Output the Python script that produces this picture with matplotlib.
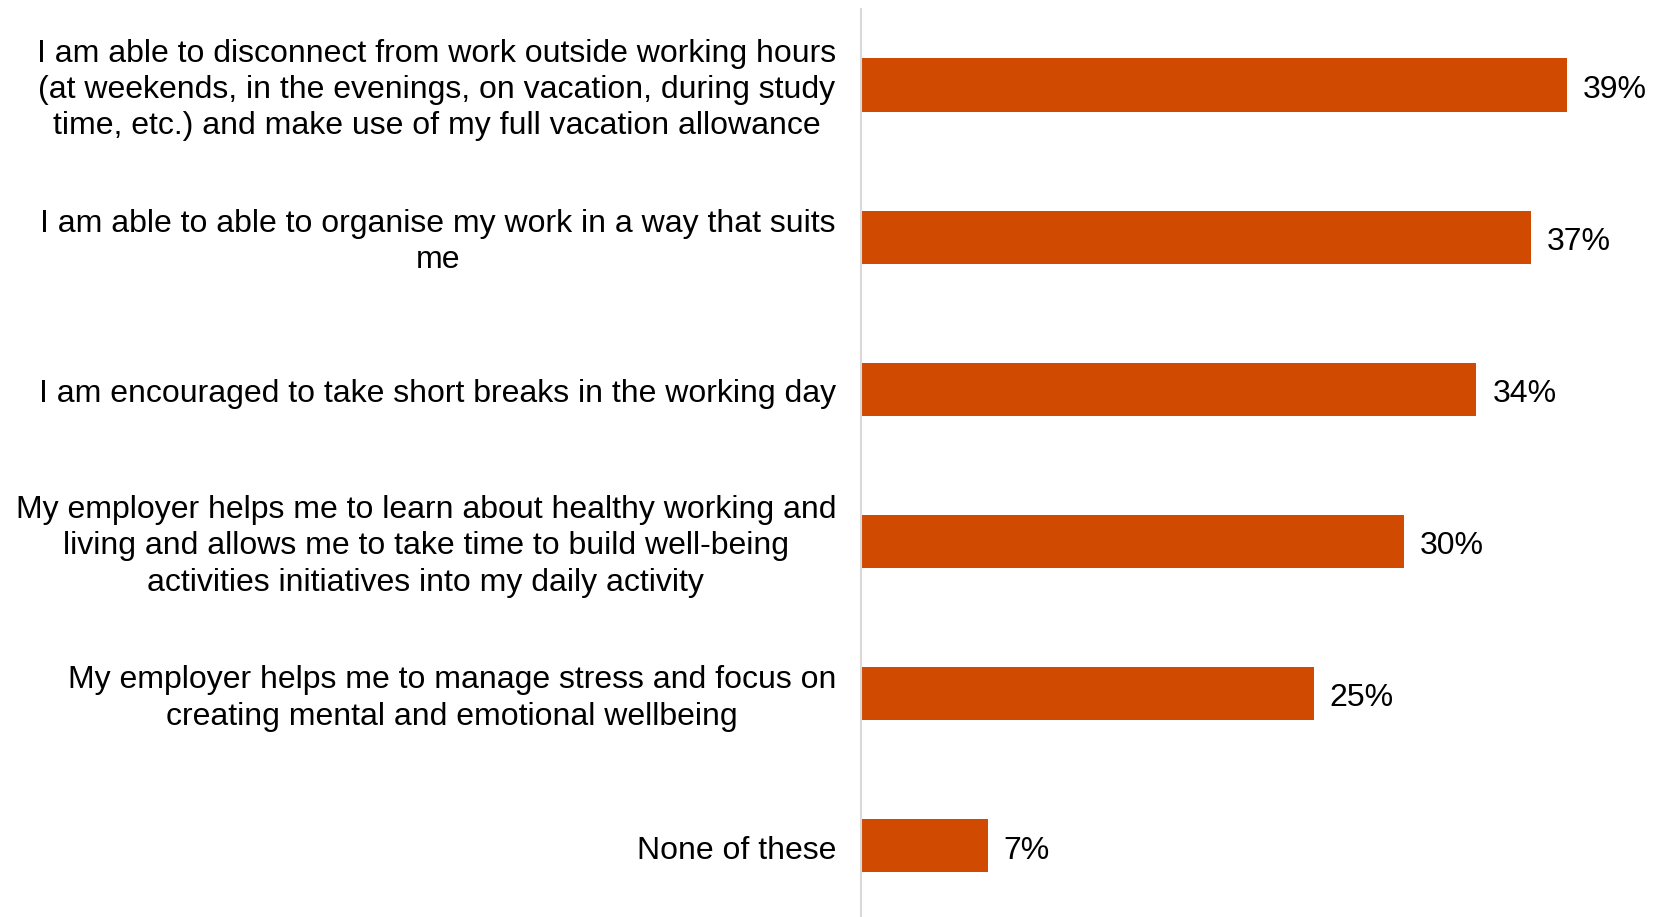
import matplotlib
matplotlib.use("Agg")
from matplotlib import pyplot as plt

labels = [
    "I am able to disconnect from work outside working hours\n"
    "(at weekends, in the evenings, on vacation, during study\n"
    "time, etc.) and make use of my full vacation allowance",
    "I am able to able to organise my work in a way that suits\nme",
    "I am encouraged to take short breaks in the working day",
    "My employer helps me to learn about healthy working and\n"
    "living and allows me to take time to build well-being\n"
    "activities initiatives into my daily activity",
    "My employer helps me to manage stress and focus on\n"
    "creating mental and emotional wellbeing",
    "None of these",
]
values = [39, 37, 34, 30, 25, 7]

BAR_COLOR = "#D04A02"
FONT = "Liberation Sans"
FS = 23

W, H = 1671, 917
fig = plt.figure(figsize=(W / 100, H / 100), dpi=100)
x0, top = 861, 9
px_per_pct = 18.1
xmax = 45
ax = fig.add_axes([x0 / W, 0, xmax * px_per_pct / W, (H - top) / H])

pos = list(range(len(values)))
ax.barh(pos, values, height=0.35, color=BAR_COLOR)
ax.set_ylim(5.47, -0.5)
ax.set_xlim(0, xmax)

# value labels just past the end of each bar
for p, v in zip(pos, values):
    ax.annotate(f"{v}%", xy=(v, p), xycoords="data", xytext=(16, -5),
                textcoords="offset pixels", va="center", ha="left",
                fontsize=FS, family=FONT, color="black")

# category labels, right aligned against the axis, lines centred
for p, lab in zip(pos, labels):
    ax.annotate(lab, xy=(0, p), xycoords="data", xytext=(-25, -5),
                textcoords="offset pixels", ha="right", va="center",
                multialignment="center", fontsize=FS, family=FONT,
                linespacing=1.28, color="black")

for s in ["top", "right", "bottom"]:
    ax.spines[s].set_visible(False)
ax.spines["left"].set_color("#D9D9D9")
ax.spines["left"].set_linewidth(1.5)
ax.set_xticks([])
ax.set_yticks([])

fig.savefig("out.png", dpi=100)
